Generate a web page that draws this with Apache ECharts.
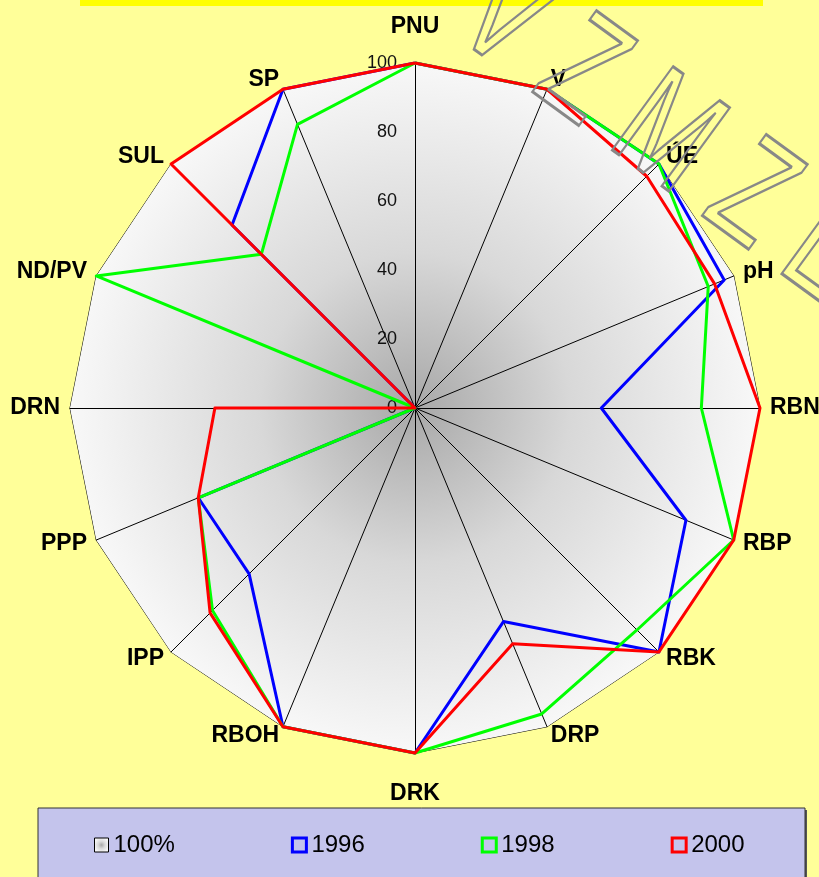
<!DOCTYPE html>
<html>
<head>
<meta charset="utf-8">
<script src="https://cdn.jsdelivr.net/npm/echarts@6/dist/echarts.min.js"></script>
<style>
  html, body { margin: 0; padding: 0; background: #FFFF99; }
  #chart { width: 819px; height: 877px; }
</style>
</head>
<body>
<div id="chart"></div>
<script>
// ukazatele ve směru hodinových ručiček od vrcholu
const indicatorNames = ['PNU', 'V', 'ÚE', 'pH', 'RBN', 'RBP', 'RBK', 'DRP', 'DRK', 'RBOH', 'IPP', 'PPP', 'DRN', 'ND/PV', 'SUL', 'SP'];
const full100 = [100, 100, 100, 100, 100, 100, 100, 100, 100, 100, 100, 100, 100, 100, 100, 100];
const v1996 = [100, 100, 100, 97, 54, 85, 100, 67, 100, 100, 68, 68, 0, 0, 75, 100];
const v1998 = [100, 100, 100, 92, 83, 100, 91, 96, 100, 100, 83, 68, 0, 100, 63, 89];
const v2000 = [100, 100, 95, 94, 100, 100, 100, 74, 100, 100, 84, 68, 58, 0, 100, 100];
const legendNames = ['100%', '1996', '1998', '2000'];
const watermarkText = 'V Z M Z L';

const FONT = '"Liberation Sans", Arial, sans-serif';

// echarts radar jde proti směru hodinových ručiček -> otočit pořadí
function ccw(arr) { return [arr[0]].concat(arr.slice(1).reverse()); }

const chart = echarts.init(document.getElementById('chart'));

const indicators = ccw(indicatorNames).map((n, i) => {
    const o = { name: n, min: 0, max: 100 };
    if (i === 0) o.axisLabel = { show: true, fontSize: 18, color: '#111', fontFamily: FONT, margin: 18 };
    return o;
});

const fill100 = {
    type: 'radial', x: 0.5, y: 0.5, r: 0.5,
    colorStops: [
        { offset: 0, color: '#a8a8a8' },
        { offset: 0.45, color: '#d8d8d8' },
        { offset: 1, color: '#f8f8f8' }
    ]
};

const nameStyle = { color: '#000', fontSize: 23, fontWeight: 'bold', fontFamily: FONT };

const option = {
    backgroundColor: '#FFFF99',
    animation: false,
    radar: {
        center: [415, 408],
        radius: 345,
        startAngle: 90,
        splitNumber: 5,
        shape: 'polygon',
        z: 1,
        indicator: indicators,
        axisName: Object.assign({}, nameStyle, {
            formatter: name => name === 'PNU' ? '{up|' + name + '}' : name === 'DRK' ? '{down|' + name + '}' : name,
            rich: {
                up: Object.assign({}, nameStyle, { padding: [0, 0, 15, 0] }),
                down: Object.assign({}, nameStyle, { padding: [19, 0, 0, 0] })
            }
        }),
        nameGap: 10,
        axisLine: { lineStyle: { color: '#000', width: 1 } },
        axisTick: { show: false },
        axisLabel: { show: false },
        splitLine: { show: false },
        splitArea: { show: false }
    },
    legend: {
        data: [
            { name: legendNames[0], itemStyle: { color: fill100, borderColor: '#000', borderWidth: 1 } },
            { name: legendNames[1], itemStyle: { color: 'rgba(0,0,0,0)', borderColor: '#0000FF', borderWidth: 3 } },
            { name: legendNames[2], itemStyle: { color: 'rgba(0,0,0,0)', borderColor: '#00FF00', borderWidth: 3 } },
            { name: legendNames[3], itemStyle: { color: 'rgba(0,0,0,0)', borderColor: '#FF0000', borderWidth: 3 } }
        ],
        icon: 'rect',
        left: 94,
        top: 833,
        padding: 0,
        itemWidth: 14,
        itemHeight: 14,
        itemGap: 116,
        textStyle: { fontSize: 24, color: '#000', fontFamily: FONT },
        selectedMode: false
    },
    graphic: [
        { type: 'rect', z: 0, shape: { x: 80, y: 0, width: 683, height: 6 }, style: { fill: '#FFFF00' } },
        { type: 'rect', z: 0, shape: { x: 40, y: 810, width: 767, height: 80 }, style: { fill: '#555' } },
        { type: 'rect', z: 0, shape: { x: 38, y: 808, width: 767, height: 80 }, style: { fill: '#C4C4EC', stroke: '#333', lineWidth: 1 } },
        {
            // šedý obrysový vodoznak vpravo nahoře
            type: 'text', z: 100, x: 474, y: -2, rotation: -0.63, scaleX: 0.7,
            style: {
                text: watermarkText, font: 'normal 150px ' + FONT, verticalAlign: 'middle', align: 'left',
                fill: 'rgba(0,0,0,0)', stroke: '#888', lineWidth: 3
            }
        }
    ],
    series: [
        {
            name: '100%', type: 'radar', z: 0, symbol: 'none',
            lineStyle: { color: '#000', width: 1 },
            areaStyle: { color: fill100, opacity: 1 },
            itemStyle: { color: '#ddd' },
            data: [{ name: '100%', value: ccw(full100) }]
        },
        {
            name: '1996', type: 'radar', z: 2, symbol: 'none',
            lineStyle: { color: '#0000FF', width: 3 }, itemStyle: { color: '#0000FF' },
            data: [{ name: '1996', value: ccw(v1996) }]
        },
        {
            name: '1998', type: 'radar', z: 3, symbol: 'none',
            lineStyle: { color: '#00FF00', width: 3 }, itemStyle: { color: '#00FF00' },
            data: [{ name: '1998', value: ccw(v1998) }]
        },
        {
            name: '2000', type: 'radar', z: 4, symbol: 'none',
            lineStyle: { color: '#FF0000', width: 3 }, itemStyle: { color: '#FF0000' },
            data: [{ name: '2000', value: ccw(v2000) }]
        }
    ]
};

chart.setOption(option);
</script>
</body>
</html>
